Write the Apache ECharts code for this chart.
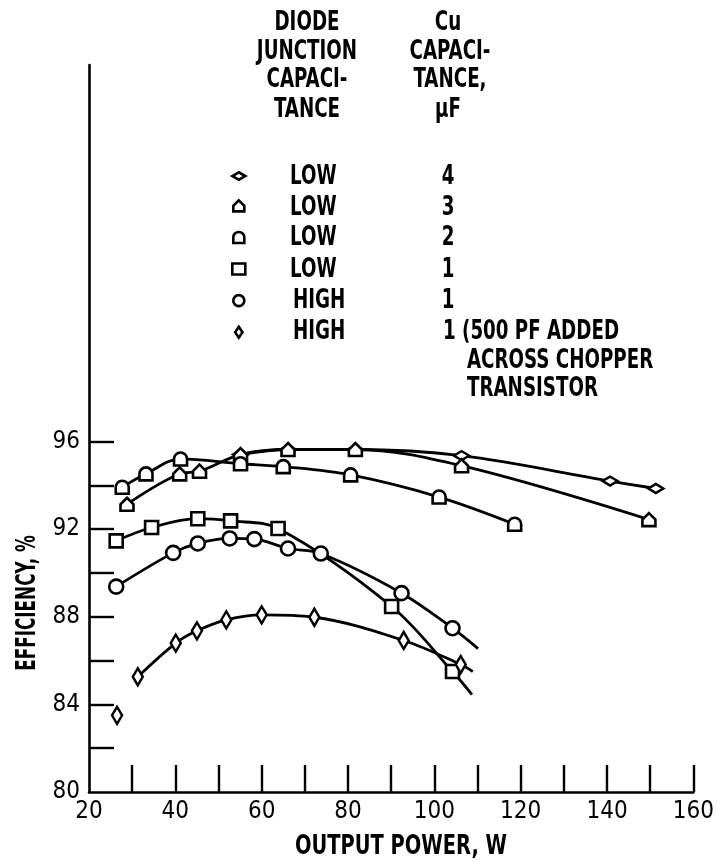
<!DOCTYPE html>
<html>
<head>
<meta charset="utf-8">
<script src="https://cdn.jsdelivr.net/npm/echarts@6/dist/echarts.min.js"></script>
<style>
  html, body { margin: 0; padding: 0; background: #fff; }
  #chart { width: 717px; height: 862px; }
</style>
</head>
<body>
<div id="chart"></div>
<script>
// values: output power (W) vs efficiency (%)
const low4Power = [55.1, 66.1, 81.7, 106.3, 140.7, 151.3];
const low4Eff = [95.41, 95.64, 95.64, 95.36, 94.2, 93.86];

const low3Power = [28.8, 41.0, 45.6, 55.1, 66.1, 81.7, 106.3, 149.7];
const low3Eff = [93.14, 94.53, 94.65, 95.41, 95.64, 95.64, 94.9, 92.44];

const low2Power = [27.7, 33.2, 41.2, 55.1, 65.0, 80.6, 101.1, 118.6];
const low2Eff = [93.92, 94.53, 95.21, 94.99, 94.86, 94.48, 93.47, 92.23];

const low1Power = [26.3, 34.5, 45.2, 52.8, 63.8, 90.1, 104.2];
const low1Eff = [91.47, 92.08, 92.48, 92.38, 92.03, 88.47, 85.5];
const low1Tail = [108.7, 84.45];

const highPower = [26.3, 39.5, 45.2, 52.6, 58.3, 66.1, 73.7, 92.4, 104.2];
const highEff = [89.38, 90.92, 91.35, 91.58, 91.55, 91.12, 90.89, 89.08, 87.48];
const highTail = [110.1, 86.55];

const pfPower = [31.3, 40.1, 45.0, 51.8, 60.0, 72.2, 92.9, 106.1];
const pfEff = [85.26, 86.8, 87.36, 87.86, 88.09, 87.98, 86.92, 85.82];
const pfTail = [108.9, 85.5];
const pfLonePoint = [26.5, 83.5];

const xLabels = [20, 40, 60, 80, 100, 120, 140, 160];
const xTicks = [30, 40, 50, 60, 70, 80, 90, 100, 110, 120, 130, 140, 150, 160];
const yLabels = [80, 84, 88, 92, 96];
const yTicks = [82, 84, 86, 88, 90, 92, 94, 96];

const FONT = '"DejaVu Sans Condensed", "Liberation Sans Narrow", "DejaVu Sans", sans-serif';

const LENS = "path://M0,4 L7,0 L14,4 L7,8 Z";
const HOUSE = "path://M6,0 L12,6 L12,12 L0,12 L0,6 Z";
const DSHAPE = "path://M0,12 L0,6 A6,6 0 0 1 12,6 L12,12 Z";
const TALL = "path://M4,0 L8,6 L4,12 L0,6 Z";

function points(xs, ys, tail) {
  const d = xs.map((x, i) => [x, ys[i]]);
  if (tail) d.push({ value: tail, symbol: "none" });
  return d;
}

function curve(name, xs, ys, tail, symbol, size) {
  return {
    name,
    type: "line",
    smooth: 0.35,
    data: points(xs, ys, tail),
    symbol,
    symbolSize: size,
    lineStyle: { color: "#000", width: 2.8 },
    itemStyle: { color: "#fff", borderColor: "#000", borderWidth: 2.6, opacity: 1 },
    emphasis: { disabled: true },
  };
}

function label(text, x, y, align, size, sx) {
  return {
    type: "text",
    x,
    y,
    scaleX: sx || 0.78,
    style: {
      text,
      x: 0,
      y: 0,
      fill: "#000",
      font: "bold " + (size || 26) + "px " + FONT,
      textAlign: align || "left",
      textVerticalAlign: "middle",
    },
  };
}

const chart = echarts.init(document.getElementById("chart"));

chart.setOption({
  backgroundColor: "#fff",
  animation: false,
  grid: { left: 89, right: 18, top: 65, bottom: 70 },
  xAxis: {
    type: "value",
    min: 20,
    max: 160,
    axisLine: { lineStyle: { color: "#000", width: 2.6 } },
    axisTick: {
      inside: true,
      length: 27,
      customValues: xTicks,
      lineStyle: { color: "#000", width: 2.4 },
    },
    axisLabel: {
      customValues: xLabels,
      color: "#000",
      fontFamily: FONT,
      fontSize: 24,
      margin: 8,
    },
    splitLine: { show: false },
  },
  yAxis: {
    type: "value",
    min: 80,
    max: 113.2,
    axisLine: { show: true, lineStyle: { color: "#000", width: 2.6 } },
    axisTick: {
      show: true,
      inside: true,
      length: 25,
      customValues: yTicks,
      lineStyle: { color: "#000", width: 2.4 },
    },
    axisLabel: {
      customValues: yLabels,
      color: "#000",
      fontFamily: FONT,
      fontSize: 24,
      margin: 9,
    },
    splitLine: { show: false },
  },
  legend: {
    data: [
      { name: "LOW 4", icon: LENS },
      { name: "LOW 3", icon: HOUSE },
      { name: "LOW 2", icon: DSHAPE },
      { name: "LOW 1", icon: "rect" },
      { name: "HIGH 1", icon: "circle" },
      { name: "HIGH 1 (500 PF)", icon: TALL },
    ],
    orient: "vertical",
    left: 231,
    top: 171,
    padding: 0,
    itemWidth: 13,
    itemHeight: 11,
    itemGap: 18,
    selectedMode: false,
    formatter: () => "",
    textStyle: { fontSize: 8, lineHeight: 8 },
    itemStyle: { color: "#fff", borderColor: "#000", borderWidth: 2.6 },
  },
  graphic: [
    label("DIODE", 307, 23, "center"),
    label("JUNCTION", 307, 52, "center"),
    label("CAPACI-", 307, 80, "center"),
    label("TANCE", 307, 110, "center"),
    label("Cu", 448, 23, "center"),
    label("CAPACI-", 450, 52, "center"),
    label("TANCE,", 450, 80, "center"),
    label("\u00b5F", 448, 110, "center"),
    label("LOW", 290, 177),
    label("LOW", 290, 208),
    label("LOW", 290, 238),
    label("LOW", 290, 270),
    label("HIGH", 293, 301),
    label("HIGH", 293, 332),
    label("4", 448, 177, "center"),
    label("3", 448, 208, "center"),
    label("2", 448, 238, "center"),
    label("1", 448, 270, "center"),
    label("1", 448, 301, "center"),
    label("1 (500 PF ADDED", 443, 332),
    label("ACROSS CHOPPER", 467, 361),
    label("TRANSISTOR", 467, 389),
    label("OUTPUT POWER, W", 401, 847, "center", 27, 0.8),
    {
      type: "text",
      x: 28,
      y: 603,
      rotation: Math.PI / 2,
      scaleX: 0.72,
      style: {
        text: "EFFICIENCY, %",
        x: 0,
        y: 0,
        fill: "#000",
        font: "bold 26px " + FONT,
        textAlign: "center",
        textVerticalAlign: "middle",
      },
    },
  ],
  series: [
    curve("LOW 4", low4Power, low4Eff, null, LENS, [15, 9]),
    curve("LOW 3", low3Power, low3Eff, null, HOUSE, 13),
    curve("LOW 2", low2Power, low2Eff, null, DSHAPE, 13),
    curve("LOW 1", low1Power, low1Eff, low1Tail, "rect", 13),
    curve("HIGH 1", highPower, highEff, highTail, "circle", 14),
    curve("HIGH 1 (500 PF)", pfPower, pfEff, pfTail, TALL, [10, 17]),
    {
      name: "HIGH 1 (500 PF) lone",
      type: "scatter",
      data: [pfLonePoint],
      symbol: TALL,
      symbolSize: [10, 17],
      itemStyle: { color: "#fff", borderColor: "#000", borderWidth: 2.6, opacity: 1 },
      emphasis: { disabled: true },
    },
  ],
});
</script>
</body>
</html>
